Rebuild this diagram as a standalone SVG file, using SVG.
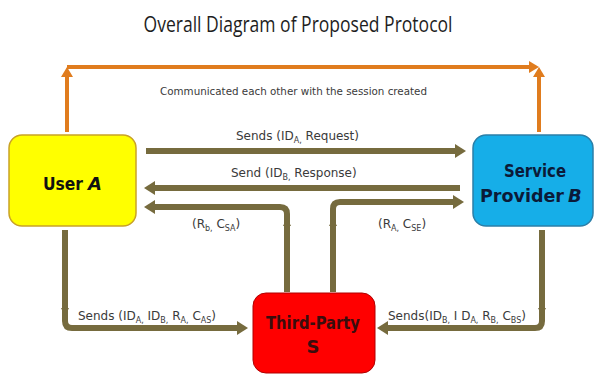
<svg xmlns="http://www.w3.org/2000/svg" width="595" height="376" viewBox="0 0 595 376">
<defs>
<style>
.ol{fill:none;stroke:#766b3e;stroke-width:6}
.or{fill:none;stroke:#e07c1e;stroke-width:4}
.lbl{font-family:"DejaVu Sans",sans-serif;font-size:12px;fill:#3a3a3a}
.sub{font-size:8px}
.bx{font-family:"DejaVu Sans",sans-serif;font-weight:bold;font-size:18px}
.tick{fill:#766b3e}
</style>
<marker id="ah" markerUnits="userSpaceOnUse" markerWidth="11" markerHeight="14" refX="4" refY="7" orient="auto"><path d="M0,0 L11,7 L0,14 z" fill="#766b3e"/></marker>
<marker id="ao" markerUnits="userSpaceOnUse" markerWidth="10" markerHeight="12" refX="3" refY="6" orient="auto"><path d="M0,0 L10,6 L0,12 z" fill="#e07c1e"/></marker>
</defs>
<rect width="595" height="376" fill="#ffffff"/>
<text x="298" y="32" font-family="Open Sans, sans-serif" font-size="21" fill="#1e1e1e" text-anchor="middle" textLength="309" lengthAdjust="spacingAndGlyphs">Overall Diagram of Proposed Protocol</text>

<g id="connectors">
<path class="or" d="M67,132 V74" marker-end="url(#ao)"/>
<path class="or" d="M67,67 H532" marker-end="url(#ao)"/>
<path class="or" d="M539,132 V74" marker-end="url(#ao)"/>
<text class="lbl" x="160" y="95" textLength="267" lengthAdjust="spacingAndGlyphs" style="font-size:11px">Communicated each other with the session created</text>

<path class="ol" d="M146,151 H459" marker-end="url(#ah)"/>
<text class="lbl" x="236" y="140">Sends (ID<tspan class="sub" dy="3">A,</tspan><tspan dy="-3"> Request)</tspan></text>

<path class="ol" d="M460,188 H151" marker-end="url(#ah)"/>
<text class="lbl" x="231" y="177">Send (ID<tspan class="sub" dy="3">B,</tspan><tspan dy="-3"> Response)</tspan></text>

<path class="ol" d="M287,292 V214 Q287,207 280,207 H151" marker-end="url(#ah)"/>
<polygon class="tick" points="283,226 291,226 287,218"/>
<text class="lbl" x="192" y="228">(R<tspan class="sub" dy="3">b,</tspan><tspan dy="-3"> C</tspan><tspan class="sub" dy="3">SA</tspan><tspan dy="-3">)</tspan></text>

<path class="ol" d="M333,292 V209 Q333,202 340,202 H457" marker-end="url(#ah)"/>
<polygon class="tick" points="329,226 337,226 333,218"/>
<text class="lbl" x="378" y="228">(R<tspan class="sub" dy="3">A,</tspan><tspan dy="-3"> C</tspan><tspan class="sub" dy="3">SE</tspan><tspan dy="-3">)</tspan></text>

<path class="ol" d="M65,230 V321 Q65,328 72,328 H241" marker-end="url(#ah)"/>
<polygon class="tick" points="61,308 69,308 65,316"/>
<text class="lbl" x="78" y="320">Sends (ID<tspan class="sub" dy="3">A,</tspan><tspan dy="-3"> ID</tspan><tspan class="sub" dy="3">B,</tspan><tspan dy="-3"> R</tspan><tspan class="sub" dy="3">A,</tspan><tspan dy="-3"> C</tspan><tspan class="sub" dy="3">AS</tspan><tspan dy="-3">)</tspan></text>

<path class="ol" d="M542,230 V321 Q542,328 535,328 H384" marker-end="url(#ah)"/>
<polygon class="tick" points="538,308 546,308 542,316"/>
<text class="lbl" x="388" y="320">Sends(ID<tspan class="sub" dy="3">B,</tspan><tspan dy="-3"> I D</tspan><tspan class="sub" dy="3">A,</tspan><tspan dy="-3"> R</tspan><tspan class="sub" dy="3">B,</tspan><tspan dy="-3"> C</tspan><tspan class="sub" dy="3">BS</tspan><tspan dy="-3">)</tspan></text>
</g>

<g id="userA">
<rect x="9" y="135" width="127" height="91" rx="13" fill="#ffff00" stroke="#c9a227" stroke-width="1.5"/>
<text class="bx" x="43" y="190" fill="#111" textLength="40" lengthAdjust="spacingAndGlyphs">User</text>
<text class="bx" x="88" y="190" fill="#111" font-style="italic">A</text>
</g>

<g id="providerB">
<rect x="473" y="135" width="120" height="91" rx="13" fill="#16aee8" stroke="#2b7fa8" stroke-width="1.5"/>
<text class="bx" x="535" y="177" fill="#0b1a38" text-anchor="middle" textLength="62" lengthAdjust="spacingAndGlyphs">Service</text>
<text class="bx" x="480" y="202" fill="#0b1a38" textLength="84" lengthAdjust="spacingAndGlyphs">Provider</text>
<text class="bx" x="568" y="202" fill="#0b1a38" font-style="italic">B</text>
</g>

<g id="thirdPartyS">
<rect x="253" y="293" width="122" height="80" rx="13" fill="#ff0000" stroke="#b00000" stroke-width="1"/>
<text class="bx" x="313" y="329" fill="#3a0d0d" text-anchor="middle" textLength="94" lengthAdjust="spacingAndGlyphs">Third-Party</text>
<text class="bx" x="313" y="353" fill="#3a0d0d" text-anchor="middle">S</text>
</g>
</svg>
